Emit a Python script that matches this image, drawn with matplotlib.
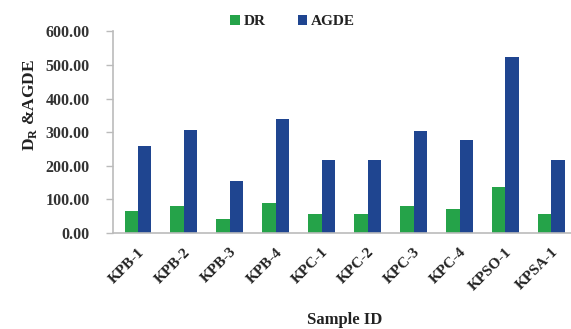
import matplotlib
matplotlib.use("Agg")
import matplotlib.pyplot as plt
import numpy as np

samples = ["KPB-1", "KPB-2", "KPB-3", "KPB-4", "KPC-1", "KPC-2", "KPC-3", "KPC-4", "KPSO-1", "KPSA-1"]
dr = [66, 81, 42, 90, 57, 55, 81, 71, 136, 57]
agde = [258, 307, 156, 340, 217, 217, 302, 276, 524, 216]
yticks = [0, 100, 200, 300, 400, 500, 600]

green = "#25a349"
blue = "#1f4590"

plt.rcParams['font.family'] = ['Liberation Serif', 'DejaVu Serif']
plt.rcParams['mathtext.fontset'] = 'custom'
plt.rcParams['mathtext.rm'] = 'Liberation Serif:bold'
plt.rcParams['mathtext.bf'] = 'Liberation Serif:bold'

fig = plt.figure(figsize=(5.71, 3.29), dpi=100)
ax = fig.add_axes([0.198, 0.292, 0.812, 0.6126])

x = np.arange(len(samples))
w = 0.29
ax.bar(x - w / 2, dr, width=w, color=green, label="DR")
ax.bar(x + w / 2, agde, width=w, color=blue, label="AGDE")

ax.set_ylim(0, 600)
ax.set_xlim(-0.54, 9.55)
ax.set_yticks(yticks)
ax.set_yticklabels([f"{v:.2f}" for v in yticks], fontsize=11.5, fontweight='bold', color='#333333')
ax.set_xticks(x)
ax.set_xticklabels(samples, rotation=45, ha='right', rotation_mode='anchor',
                   fontsize=11, fontweight='bold', color='#222222')
ax.tick_params(axis='x', length=0, pad=9)
ax.tick_params(axis='y', length=5, color='#bbbbbb', width=1, pad=12)

for s in ['top', 'right']:
    ax.spines[s].set_visible(False)
for s in ['left', 'bottom']:
    ax.spines[s].set_color('#bbbbbb')
    ax.spines[s].set_linewidth(1.2)

ax.set_ylabel(r"D$_\mathrm{R}$ &AGDE", fontsize=12.5, fontweight='bold', color='#222222')
ax.yaxis.set_label_coords(-0.16, 0.635)
ax.set_xlabel("Sample ID", fontsize=12, fontweight='bold', color='#222222')
ax.xaxis.set_label_coords(0.50, -0.39)

leg = ax.legend(loc='lower center', bbox_to_anchor=(0.387, 0.985), ncol=2, frameon=False,
                prop={'family': 'Liberation Serif', 'weight': 'bold', 'size': 11},
                handlelength=0.6, handleheight=0.6, handletextpad=0.25, columnspacing=2.1,
                borderaxespad=0)
for t in leg.get_texts():
    t.set_color('#222222')

fig.savefig("out.png", dpi=100)
